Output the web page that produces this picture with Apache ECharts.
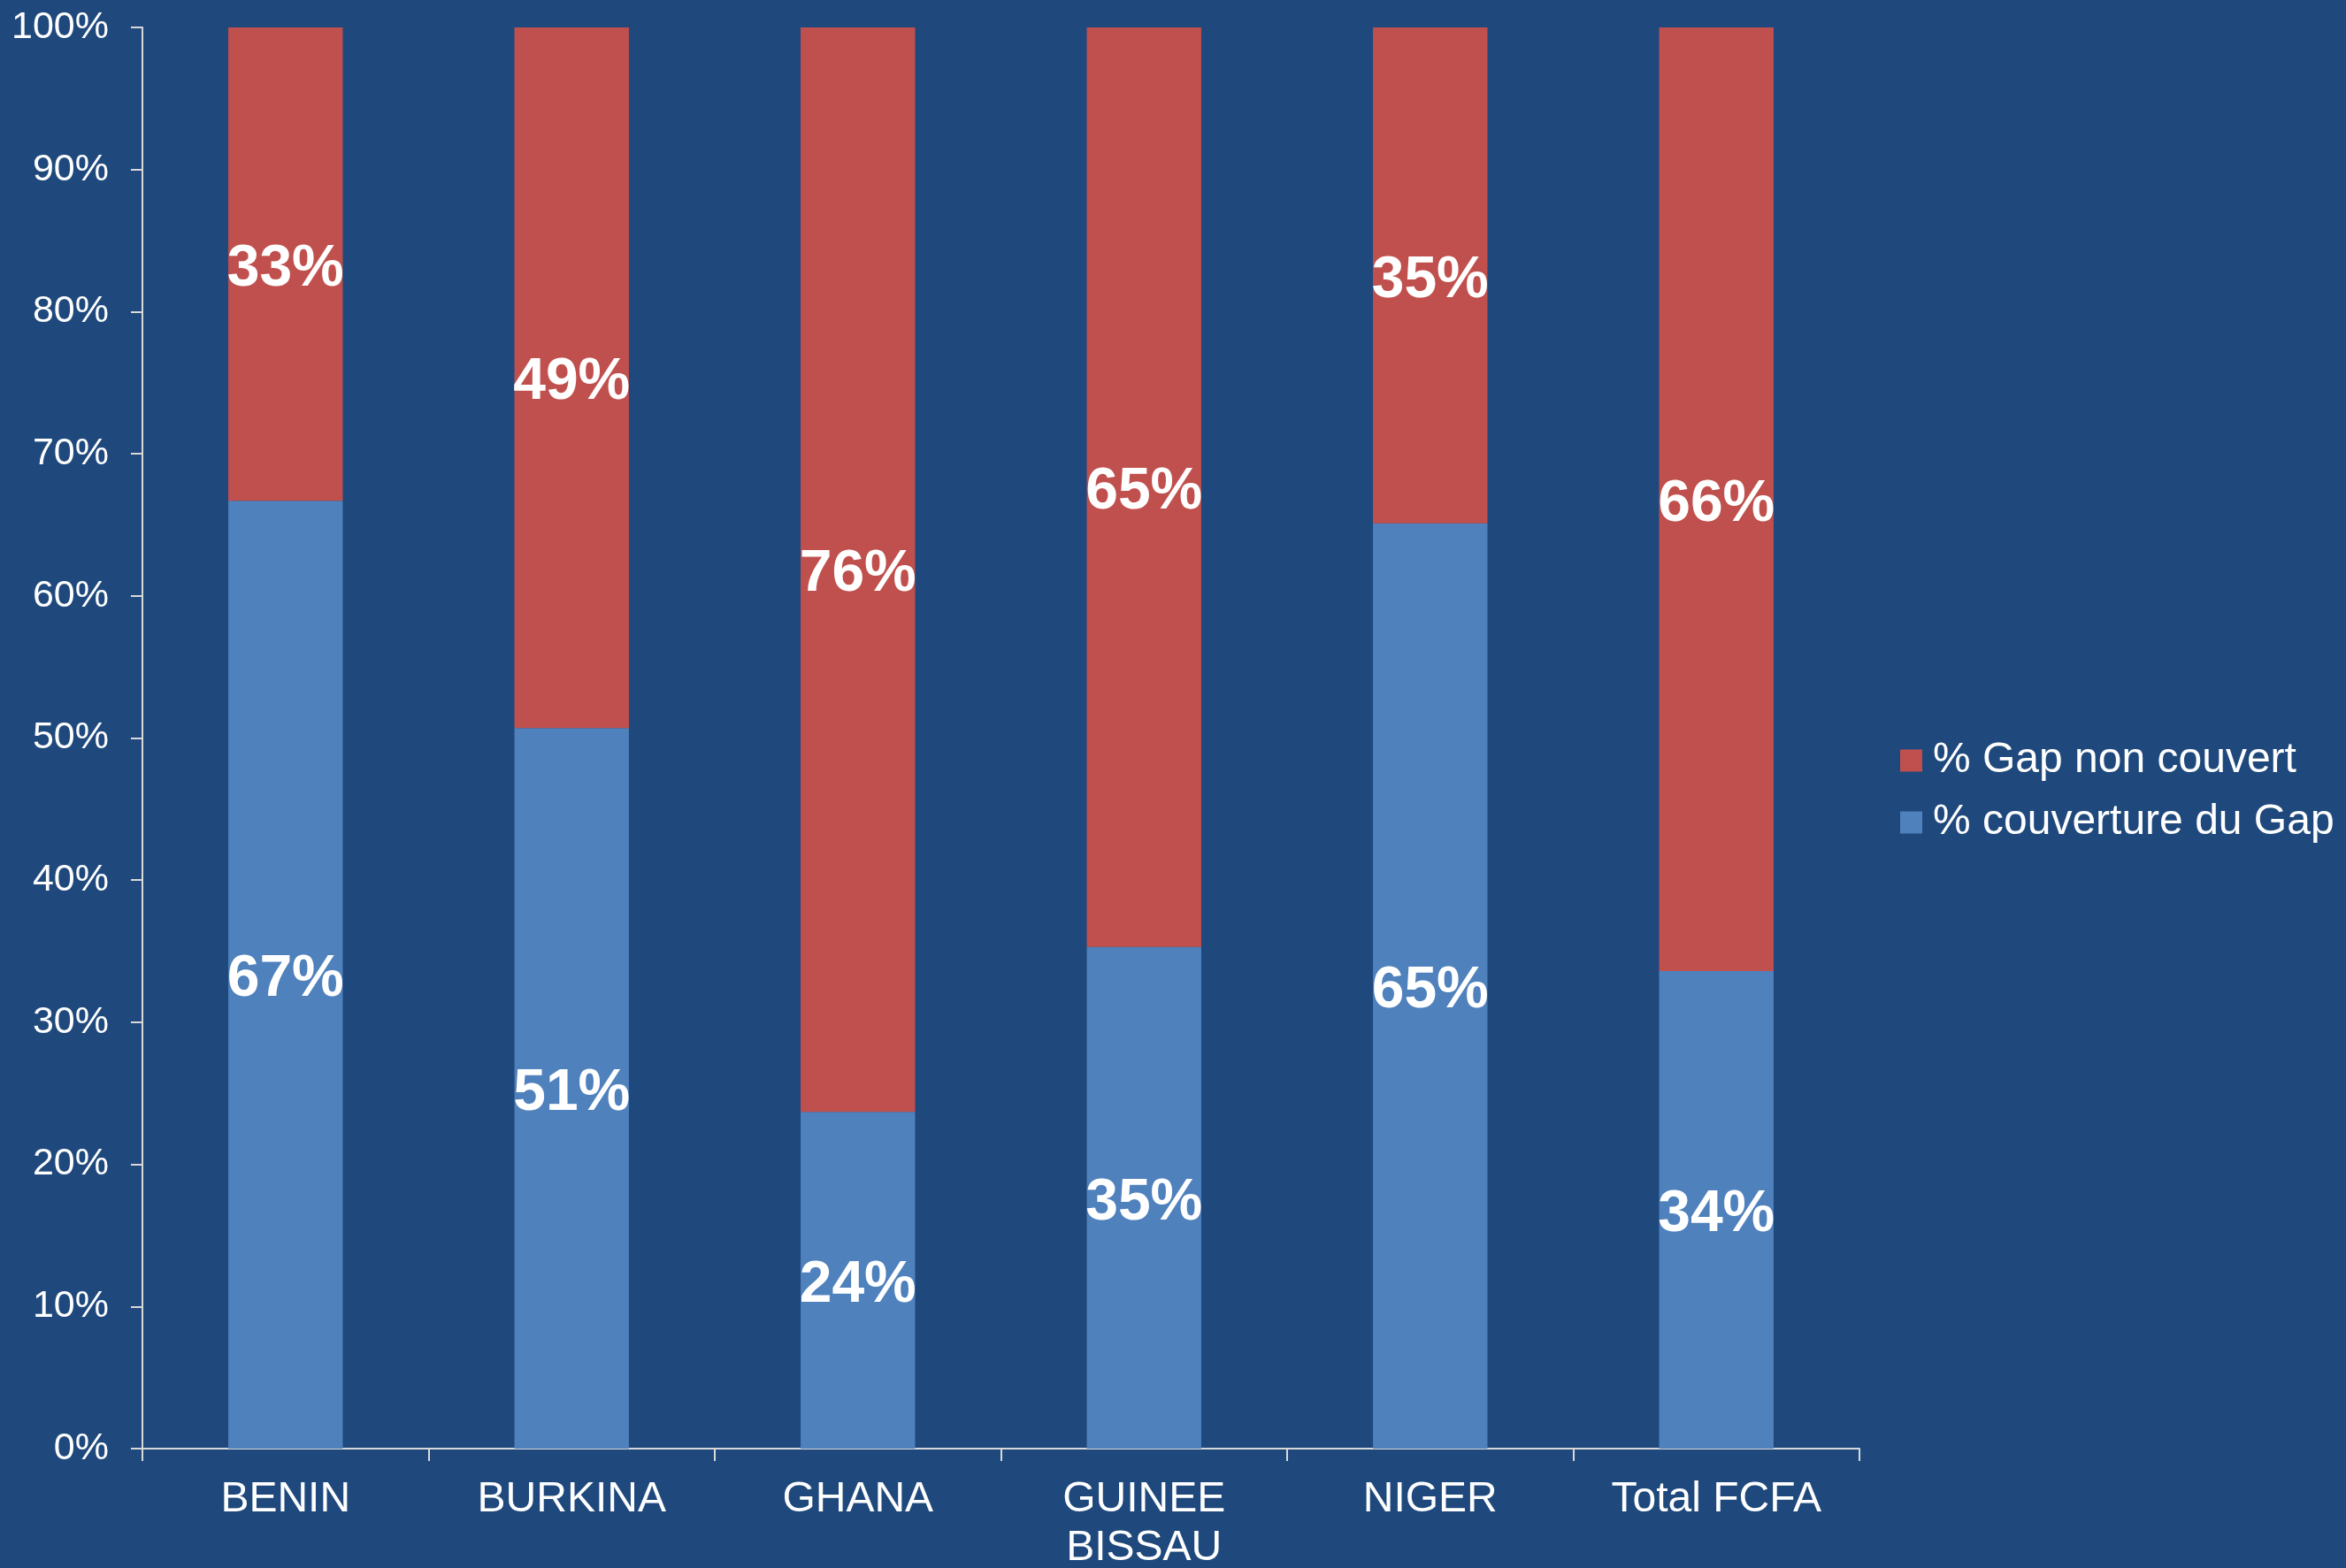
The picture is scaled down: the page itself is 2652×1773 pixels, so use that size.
<!DOCTYPE html>
<html>
<head>
<meta charset="utf-8">
<script src="https://cdn.jsdelivr.net/npm/echarts@6/dist/echarts.min.js"></script>
<style>
html,body{margin:0;padding:0;background:#1F497D;}
#c{width:2652px;height:1773px;}
</style>
</head>
<body>
<div id="c"></div>
<script>
const categories = ['BENIN', 'BURKINA', 'GHANA', 'GUINEE\nBISSAU', 'NIGER', 'Total FCFA'];
const couverture = [66.7, 50.7, 23.7, 35.3, 65.1, 33.6];
const nonCouvert = [33.3, 49.3, 76.3, 64.7, 34.9, 66.4];
const yTicks = [0, 10, 20, 30, 40, 50, 60, 70, 80, 90, 100];

const chart = echarts.init(document.getElementById('c'));
const font = 'Liberation Sans, Arial, sans-serif';
const dataLabel = {
  show: true, position: 'inside', color: '#ffffff', fontFamily: font,
  fontWeight: 'bold', fontSize: 66, offset: [0, 6],
  formatter: p => Math.round(p.value) + '%'
};
chart.setOption({
  backgroundColor: '#1F497D',
  animation: false,
  grid: { left: 161, right: 550, top: 31, bottom: 135, outerBoundsMode: 'none', containLabel: false },
  legend: {
    orient: 'vertical', left: 2143, top: 831,
    itemWidth: 25, itemHeight: 25, itemGap: 22,
    icon: 'rect',
    textStyle: { color: '#ffffff', fontSize: 48, fontFamily: font, padding: [0, 0, 0, 7] },
    data: ['% Gap non couvert', '% couverture du Gap']
  },
  xAxis: {
    type: 'category', data: categories,
    axisLine: { lineStyle: { color: '#d9d9d9', width: 2 } },
    axisTick: { show: true, length: 14, lineStyle: { color: '#d9d9d9', width: 2 } },
    axisLabel: { color: '#ffffff', fontSize: 48, fontFamily: font, margin: 30, lineHeight: 55, interval: 0 }
  },
  yAxis: {
    type: 'value', min: 0, max: 100, interval: 10,
    axisLine: { show: true, lineStyle: { color: '#d9d9d9', width: 2 } },
    axisTick: { show: true, length: 13, lineStyle: { color: '#d9d9d9', width: 2 } },
    splitLine: { show: false },
    axisLabel: {
      color: '#ffffff', fontSize: 43, fontFamily: font, margin: 38,
      formatter: v => yTicks.includes(v) ? v + '%' : ''
    }
  },
  series: [
    {
      name: '% couverture du Gap', type: 'bar', stack: 'total',
      data: couverture, barCategoryGap: '60%',
      itemStyle: { color: '#4F81BD' },
      label: dataLabel
    },
    {
      name: '% Gap non couvert', type: 'bar', stack: 'total',
      data: nonCouvert, barCategoryGap: '60%',
      itemStyle: { color: '#C0504D' },
      label: dataLabel
    }
  ]
});
</script>
</body>
</html>
